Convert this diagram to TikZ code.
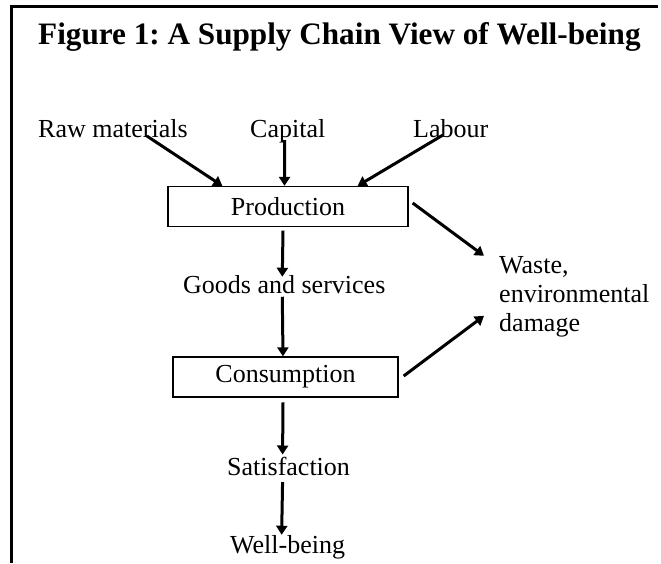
\documentclass[tikz,border=0pt]{standalone}
\usepackage{fontspec}
\setmainfont{Liberation Serif}
\usetikzlibrary{arrows.meta,calc}
\frenchspacing
\begin{document}
\begin{tikzpicture}[x=1pt,y=-1pt,
  lbl/.style={inner sep=0pt, font=\fontsize{26}{29}\selectfont},
  titlefont/.style={inner sep=0pt, font=\fontsize{31.2}{34}\selectfont\bfseries},
  boxnode/.style={draw, line width=1.3pt, inner sep=0pt, font=\fontsize{26}{29}\selectfont},
  arr/.style={line width=3pt, -{Triangle[length=9pt,width=11pt]}},
  frame/.style={line width=3pt}]
\useasboundingbox (0,0) rectangle (661,563);
\draw[frame] (11,563) -- (11,6.5) -- (658,6.5);
\node[titlefont, anchor=base west] (title) at (38,44) {Figure 1: A Supply Chain View of Well-being};
\node[lbl, anchor=base west] (raw) at (38,137) {Raw materials};
\node[lbl, anchor=base west] (capital) at (250,137) {Capital};
\node[lbl, anchor=base west] (labour) at (413,137) {Labour};
\node[boxnode, minimum width=240pt, minimum height=40pt] (prod) at (288,206.5) {Production};
\node[lbl, anchor=base west] (goods) at (183,293) {Goods and services};
\node[boxnode, minimum width=225pt, minimum height=40pt] (cons) at (285.5,377) {Consumption};
\node[lbl, anchor=base west] (sat) at (227,475) {Satisfaction};
\node[lbl, anchor=base west] (well) at (230,553) {Well-being};
\node[lbl, anchor=north west, align=left] (waste) at (499,255.8) {Waste,\\environmental\\damage};
\draw[arr] ($(raw.base east)+(-41,-1)$) -- ($(prod.north west)+(55,0)$);
\draw[arr] ($(capital.base)+(-3,3)$) -- ($(prod.north)+(-3.5,0)$);
\draw[arr] ($(labour.base west)+(30,-2)$) -- ($(prod.north east)+(-51,0)$);
\draw[arr] ($(prod.south)+(-5,3.5)$) -- ($(goods.north)+(-2,2)$);
\draw[arr] ($(goods.south)+(-2,3.3)$) -- ($(cons.north)+(-2.5,0)$);
\draw[arr] ($(cons.south)+(-2.5,4.7)$) -- ($(sat.north)+(-6,-2)$);
\draw[arr] ($(sat.south)+(-6,6.7)$) -- ($(well.north)+(-6,0)$);
\draw[arr] ($(prod.east)+(4,-3.5)$) -- ($(waste.north west)+(-15,0)$);
\draw[arr] ($(cons.east)+(5,-1)$) -- ($(waste.south west)+(-15,-21)$);
\end{tikzpicture}
\end{document}
